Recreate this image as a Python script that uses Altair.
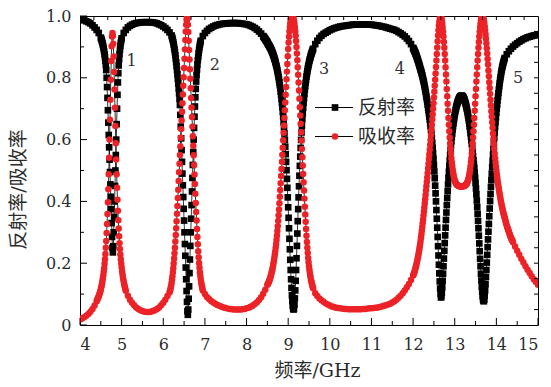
import altair as alt
import pandas as pd

# ---------------- data ----------------
# Each segment: start frequency (GHz), sampling step (GHz), values
refl_1_start, refl_1_step = 4.00, 0.05
refl_1 = [0.990, 0.988, 0.986, 0.983, 0.980, 0.976, 0.970, 0.963, 0.955, 0.945]
refl_2_start, refl_2_step = 4.50, 0.01
refl_2 = [0.930, 0.926, 0.922, 0.917, 0.912, 0.906, 0.900, 0.893, 0.885, 0.876,
          0.866, 0.855, 0.842, 0.825, 0.800, 0.770, 0.735, 0.695, 0.655, 0.615,
          0.575, 0.535, 0.495, 0.455, 0.415, 0.375, 0.330, 0.285, 0.250, 0.235,
          0.255, 0.300, 0.350, 0.400, 0.450, 0.500, 0.550, 0.600, 0.650, 0.700,
          0.745, 0.785, 0.815, 0.840, 0.860, 0.877, 0.891, 0.903, 0.913, 0.921,
          0.928]
refl_3_start, refl_3_step = 5.05, 0.05
refl_3 = [0.945, 0.955, 0.963, 0.968, 0.972, 0.975, 0.977, 0.978, 0.979, 0.980,
          0.980, 0.980, 0.980, 0.980, 0.979, 0.978, 0.976, 0.973, 0.970, 0.966,
          0.961, 0.955, 0.947, 0.937]
refl_4_start, refl_4_step = 6.21, 0.01
refl_4 = [0.932, 0.927, 0.921, 0.915, 0.908, 0.900, 0.892, 0.883, 0.873, 0.862,
          0.850, 0.838, 0.825, 0.811, 0.797, 0.782, 0.766, 0.750, 0.732, 0.712,
          0.680, 0.642, 0.604, 0.566, 0.528, 0.490, 0.452, 0.414, 0.376, 0.338,
          0.300, 0.262, 0.224, 0.186, 0.148, 0.110, 0.075, 0.045, 0.033, 0.050,
          0.085, 0.125, 0.168, 0.212, 0.256, 0.300, 0.344, 0.388, 0.432, 0.476,
          0.518, 0.560, 0.600, 0.638, 0.674, 0.707, 0.737, 0.764, 0.788, 0.809,
          0.827, 0.843, 0.857, 0.869, 0.880, 0.890, 0.899, 0.907, 0.914, 0.920]
refl_5_start, refl_5_step = 6.95, 0.05
refl_5 = [0.935, 0.945, 0.952, 0.958, 0.962, 0.966, 0.969, 0.971, 0.973, 0.974,
          0.975, 0.976, 0.976, 0.977, 0.977, 0.977, 0.977, 0.977, 0.976, 0.975,
          0.974, 0.973, 0.971, 0.968, 0.965, 0.961, 0.956, 0.950, 0.943, 0.935]
refl_6_start, refl_6_step = 8.41, 0.01
refl_6 = [0.933, 0.931, 0.929, 0.927, 0.925, 0.923, 0.921, 0.919, 0.917, 0.915,
          0.911, 0.909, 0.907, 0.905, 0.902, 0.900, 0.897, 0.895, 0.892, 0.889,
          0.885, 0.882, 0.879, 0.875, 0.871, 0.867, 0.862, 0.858, 0.853, 0.848,
          0.842, 0.837, 0.831, 0.824, 0.817, 0.810, 0.802, 0.794, 0.785, 0.776,
          0.766, 0.755, 0.744, 0.732, 0.719, 0.705, 0.690, 0.674, 0.657, 0.639,
          0.620, 0.599, 0.577, 0.553, 0.528, 0.501, 0.473, 0.444, 0.413, 0.381,
          0.347, 0.313, 0.279, 0.245, 0.211, 0.178, 0.148, 0.120, 0.096, 0.077,
          0.062, 0.053, 0.050, 0.054, 0.066, 0.086, 0.112, 0.143, 0.178, 0.216,
          0.256, 0.296, 0.336, 0.375, 0.413, 0.449, 0.483, 0.515, 0.545, 0.573,
          0.599, 0.623, 0.645, 0.666, 0.685, 0.703, 0.719, 0.734, 0.748, 0.761,
          0.773, 0.784, 0.794, 0.804, 0.813, 0.821, 0.829, 0.836, 0.842, 0.849,
          0.855, 0.860, 0.865, 0.870, 0.875, 0.879, 0.883, 0.887, 0.891, 0.894]
refl_7_start, refl_7_step = 9.65, 0.05
refl_7 = [0.909, 0.920, 0.929, 0.936, 0.942, 0.946, 0.950, 0.954,
          0.957, 0.960, 0.962, 0.964, 0.966, 0.967, 0.968, 0.969, 0.970, 0.971,
          0.972, 0.972, 0.973, 0.973, 0.973, 0.973, 0.973, 0.973, 0.972, 0.972,
          0.971, 0.970, 0.969, 0.968, 0.966, 0.965, 0.963, 0.961, 0.959, 0.957,
          0.955, 0.952, 0.948, 0.944, 0.939, 0.934, 0.927, 0.919, 0.909]
refl_8_start, refl_8_step = 12.00, 0.01
refl_8 = [0.897, 0.894, 0.891, 0.888, 0.885, 0.882, 0.878, 0.875, 0.871, 0.867,
          0.863, 0.859, 0.855, 0.850, 0.846, 0.841, 0.837, 0.832, 0.827, 0.823,
          0.818, 0.813, 0.808, 0.802, 0.796, 0.790, 0.784, 0.777, 0.770, 0.763,
          0.755, 0.747, 0.739, 0.731, 0.722, 0.713, 0.704, 0.695, 0.685, 0.675,
          0.665, 0.654, 0.643, 0.631, 0.618, 0.604, 0.589, 0.573, 0.556, 0.538,
          0.518, 0.497, 0.475, 0.451, 0.426, 0.400, 0.372, 0.344, 0.315, 0.285,
          0.255, 0.225, 0.195, 0.167, 0.141, 0.118, 0.100, 0.089, 0.093, 0.105,
          0.122, 0.143, 0.166, 0.190, 0.215, 0.240, 0.265, 0.290, 0.315, 0.340,
          0.364, 0.388, 0.411, 0.433, 0.455, 0.476, 0.496, 0.515, 0.533, 0.550,
          0.566, 0.581, 0.595, 0.608, 0.620, 0.632, 0.643, 0.653, 0.663, 0.672,
          0.680, 0.688, 0.695, 0.701, 0.707, 0.712, 0.717, 0.721, 0.725, 0.729,
          0.732, 0.735, 0.737, 0.739, 0.740, 0.741, 0.742, 0.742, 0.741, 0.740,
          0.738, 0.736, 0.733, 0.730, 0.726, 0.722, 0.717, 0.712, 0.706, 0.700,
          0.693, 0.686, 0.678, 0.670, 0.661, 0.652, 0.642, 0.632, 0.621, 0.610,
          0.598, 0.586, 0.573, 0.560, 0.546, 0.533, 0.521, 0.508, 0.493, 0.477,
          0.460, 0.442, 0.423, 0.403, 0.382, 0.360, 0.337, 0.313, 0.289, 0.264,
          0.239, 0.214, 0.190, 0.166, 0.144, 0.124, 0.107, 0.093, 0.083, 0.078,
          0.077, 0.082, 0.095, 0.112, 0.132, 0.155, 0.178, 0.202, 0.227, 0.252,
          0.277, 0.302, 0.327, 0.352, 0.377, 0.401, 0.424, 0.447, 0.469, 0.490,
          0.511, 0.531, 0.551, 0.570, 0.589, 0.607, 0.624, 0.641, 0.657, 0.672,
          0.687, 0.701, 0.714, 0.727, 0.739, 0.751, 0.762, 0.773, 0.783, 0.793,
          0.802, 0.811, 0.819, 0.826, 0.833, 0.839, 0.845, 0.850, 0.855, 0.860,
          0.864]
refl_9_start, refl_9_step = 14.25, 0.05
refl_9 = [0.876, 0.886, 0.894, 0.901, 0.907, 0.912, 0.917, 0.921, 0.925, 0.928,
          0.931, 0.933, 0.935, 0.937, 0.938, 0.939]

absorb_1_start, absorb_1_step = 4.00, 0.05
absorb_1 = [0.018, 0.021, 0.025, 0.030, 0.036, 0.043, 0.052, 0.063, 0.077]
absorb_2_start, absorb_2_step = 4.41, 0.01
absorb_2 = [0.081, 0.084, 0.087, 0.090, 0.093, 0.097, 0.101, 0.106, 0.110, 0.116,
            0.122, 0.128, 0.135, 0.143, 0.151, 0.161, 0.172, 0.184, 0.198, 0.213,
            0.230, 0.250, 0.272, 0.298, 0.327, 0.359, 0.397, 0.439, 0.488, 0.541,
            0.600, 0.664, 0.729, 0.794, 0.854, 0.902, 0.934, 0.945, 0.936, 0.910,
            0.869, 0.819, 0.762, 0.703, 0.644, 0.588, 0.536, 0.488, 0.444, 0.405,
            0.370, 0.339, 0.312, 0.287, 0.265, 0.246, 0.228, 0.213, 0.199, 0.187,
            0.175, 0.165, 0.156, 0.148, 0.140, 0.133, 0.127, 0.121, 0.116, 0.111]
absorb_3_start, absorb_3_step = 5.15, 0.05
absorb_3 = [0.095, 0.082, 0.072, 0.064, 0.057, 0.052, 0.048, 0.045, 0.043, 0.042,
            0.042, 0.043, 0.045, 0.048, 0.052, 0.057, 0.064, 0.072, 0.082, 0.094,
            0.105]
absorb_4_start, absorb_4_step = 6.16, 0.01
absorb_4 = [0.110, 0.115, 0.121, 0.128, 0.137, 0.147, 0.158, 0.170, 0.184, 0.199,
            0.215, 0.232, 0.250, 0.270, 0.291, 0.313, 0.336, 0.360, 0.385, 0.411,
            0.438, 0.466, 0.494, 0.522, 0.550, 0.578, 0.606, 0.634, 0.662, 0.690,
            0.718, 0.746, 0.774, 0.802, 0.832, 0.862, 0.892, 0.922, 0.950, 0.972,
            0.988, 0.996, 0.990, 0.972, 0.948, 0.920, 0.890, 0.859, 0.828, 0.797,
            0.766, 0.735, 0.704, 0.673, 0.642, 0.611, 0.580, 0.549, 0.518, 0.487,
            0.456, 0.425, 0.395, 0.366, 0.338, 0.311, 0.285, 0.261, 0.239, 0.219,
            0.201, 0.185, 0.171, 0.159, 0.148, 0.139, 0.131, 0.124, 0.118, 0.112]
absorb_5_start, absorb_5_step = 7.00, 0.05
absorb_5 = [0.100, 0.091, 0.084, 0.078, 0.073, 0.069, 0.065, 0.062, 0.059, 0.057,
            0.055, 0.053, 0.052, 0.051, 0.050, 0.050, 0.050, 0.050, 0.051, 0.052,
            0.054, 0.056, 0.059, 0.063, 0.068, 0.074, 0.081, 0.090, 0.101, 0.114,
            0.130]
absorb_6_start, absorb_6_step = 8.51, 0.01
absorb_6 = [0.132, 0.135, 0.138, 0.141, 0.145, 0.149, 0.153, 0.158, 0.163, 0.168,
            0.174, 0.180, 0.187, 0.194, 0.202, 0.210, 0.219, 0.229, 0.239, 0.250,
            0.262, 0.275, 0.289, 0.304, 0.320, 0.337, 0.355, 0.374, 0.394, 0.415,
            0.437, 0.459, 0.482, 0.505, 0.528, 0.551, 0.574, 0.598, 0.622, 0.646,
            0.670, 0.695, 0.720, 0.745, 0.770, 0.795, 0.820, 0.845, 0.870, 0.893,
            0.914, 0.933, 0.950, 0.964, 0.976, 0.985, 0.992, 0.996, 0.999, 1.000,
            0.999, 0.996, 0.991, 0.984, 0.975, 0.964, 0.951, 0.936, 0.919, 0.900,
            0.879, 0.857, 0.834, 0.810, 0.785, 0.759, 0.732, 0.705, 0.678, 0.651,
            0.624, 0.597, 0.570, 0.543, 0.516, 0.489, 0.462, 0.435, 0.409, 0.383,
            0.358, 0.334, 0.311, 0.289, 0.269, 0.250, 0.233, 0.217, 0.203, 0.190,
            0.179, 0.169, 0.160, 0.152, 0.145, 0.139, 0.133, 0.128, 0.123, 0.119]
absorb_7_start, absorb_7_step = 9.65, 0.05
absorb_7 = [0.103, 0.094, 0.086, 0.080, 0.075, 0.070, 0.066, 0.063,
            0.060, 0.058, 0.056, 0.055, 0.054, 0.053, 0.052, 0.052, 0.051, 0.051,
            0.051, 0.051, 0.051, 0.051, 0.051, 0.052, 0.052, 0.053, 0.054, 0.054,
            0.055, 0.056, 0.057, 0.058, 0.060, 0.062, 0.064, 0.066, 0.069, 0.073,
            0.077, 0.082, 0.088, 0.095, 0.103, 0.112, 0.122, 0.133, 0.146, 0.160]
absorb_8_start, absorb_8_step = 12.01, 0.01
absorb_8 = [0.163, 0.167, 0.171, 0.175, 0.180, 0.185, 0.190, 0.196, 0.202, 0.208,
            0.215, 0.222, 0.229, 0.237, 0.245, 0.254, 0.263, 0.273, 0.283, 0.294,
            0.305, 0.317, 0.329, 0.341, 0.354, 0.367, 0.380, 0.393, 0.407, 0.421,
            0.435, 0.449, 0.463, 0.477, 0.492, 0.507, 0.522, 0.537, 0.552, 0.567,
            0.583, 0.599, 0.615, 0.631, 0.648, 0.665, 0.682, 0.700, 0.718, 0.736,
            0.755, 0.774, 0.794, 0.814, 0.835, 0.856, 0.877, 0.898, 0.918, 0.937,
            0.954, 0.969, 0.981, 0.990, 0.996, 0.998, 0.997, 0.993, 0.986, 0.976,
            0.964, 0.950, 0.934, 0.916, 0.897, 0.877, 0.856, 0.834, 0.811, 0.788,
            0.764, 0.740, 0.716, 0.693, 0.670, 0.648, 0.627, 0.607, 0.588, 0.571,
            0.555, 0.540, 0.527, 0.515, 0.504, 0.494, 0.486, 0.479, 0.473, 0.468,
            0.464, 0.461, 0.458, 0.456, 0.454, 0.453, 0.452, 0.451, 0.450, 0.450,
            0.449, 0.449, 0.449, 0.449, 0.449, 0.449, 0.449, 0.449, 0.449, 0.449,
            0.449, 0.450, 0.450, 0.451, 0.452, 0.453, 0.454, 0.456, 0.458, 0.461,
            0.464, 0.468, 0.473, 0.479, 0.486, 0.494, 0.504, 0.515, 0.527, 0.540,
            0.555, 0.571, 0.588, 0.607, 0.627, 0.648, 0.670, 0.693, 0.716, 0.740,
            0.764, 0.788, 0.811, 0.834, 0.856, 0.877, 0.897, 0.916, 0.934, 0.950,
            0.964, 0.976, 0.986, 0.993, 0.997, 0.998, 0.999, 0.998, 0.993, 0.986,
            0.977, 0.966, 0.954, 0.941, 0.927, 0.912, 0.896, 0.879, 0.861, 0.843,
            0.824, 0.805, 0.786, 0.767, 0.748, 0.729, 0.710, 0.692, 0.674, 0.656,
            0.638, 0.620, 0.603, 0.586, 0.570, 0.555, 0.540, 0.526, 0.513, 0.500,
            0.489, 0.478, 0.468, 0.458, 0.449, 0.440, 0.431, 0.423, 0.415, 0.407,
            0.400, 0.393, 0.386, 0.380, 0.374, 0.368, 0.362, 0.357, 0.352, 0.347,
            0.342, 0.337, 0.332, 0.327, 0.322, 0.318, 0.314, 0.310, 0.306, 0.302,
            0.298, 0.294, 0.290, 0.286, 0.283, 0.280, 0.277, 0.274, 0.271, 0.268]
absorb_9_start, absorb_9_step = 14.45, 0.05
absorb_9 = [0.254, 0.240, 0.227, 0.214, 0.202, 0.190, 0.179, 0.168, 0.158, 0.148,
            0.139, 0.130]

series_names = ["反射率", "吸收率"]
peak_labels = ["1", "2", "3", "4", "5"]
peak_label_f = [5.24, 7.24, 9.86, 11.68, 14.52]
peak_label_v = [0.854, 0.841, 0.830, 0.830, 0.800]
x_tick_labels = list(range(4, 16))
y_tick_labels = [0, 0.2, 0.4, 0.6, 0.8, 1.0]

# ---------------- build tables ----------------
refl_segments = [
    (refl_1_start, refl_1_step, refl_1), (refl_2_start, refl_2_step, refl_2),
    (refl_3_start, refl_3_step, refl_3), (refl_4_start, refl_4_step, refl_4),
    (refl_5_start, refl_5_step, refl_5), (refl_6_start, refl_6_step, refl_6),
    (refl_7_start, refl_7_step, refl_7), (refl_8_start, refl_8_step, refl_8),
    (refl_9_start, refl_9_step, refl_9),
]
absorb_segments = [
    (absorb_1_start, absorb_1_step, absorb_1), (absorb_2_start, absorb_2_step, absorb_2),
    (absorb_3_start, absorb_3_step, absorb_3), (absorb_4_start, absorb_4_step, absorb_4),
    (absorb_5_start, absorb_5_step, absorb_5), (absorb_6_start, absorb_6_step, absorb_6),
    (absorb_7_start, absorb_7_step, absorb_7), (absorb_8_start, absorb_8_step, absorb_8),
    (absorb_9_start, absorb_9_step, absorb_9),
]


def build(segments):
    fs, vs = [], []
    for start, step, vals in segments:
        for i, val in enumerate(vals):
            fs.append(round(start + i * step, 3))
            vs.append(val)
    return pd.DataFrame({"f": fs, "v": vs})


refl_df = build(refl_segments)
absorb_df = build(absorb_segments)
labels_df = pd.DataFrame({"t": peak_labels, "f": peak_label_f, "v": peak_label_v})

x_major = pd.DataFrame({"f": [float(x) for x in x_tick_labels]})
x_minor = pd.DataFrame({"f": [x + 0.5 for x in range(4, 15)]})
y_major = pd.DataFrame({"v": y_tick_labels})
y_minor = pd.DataFrame({"v": [0.1, 0.3, 0.5, 0.7, 0.9]})
top_ticks = pd.DataFrame({"f": [4 + i / 3 for i in range(1, 33)]})
right_ticks = pd.DataFrame({"v": [i * 0.05 for i in range(1, 20)]})

W, H = 458, 309
RED = "#EC2227"
SERIF = "DejaVu Serif"
CJK = "DejaVu Serif, Noto Sans CJK SC"
TXT = "#2b2b2b"

xscale = alt.Scale(domain=[4, 15], nice=False, zero=False)
yscale = alt.Scale(domain=[0, 1], nice=False, zero=False)

x_axis = alt.Axis(values=x_tick_labels, ticks=False, domain=False, grid=False,
                  labelFont=SERIF, labelFontSize=16, labelColor=TXT,
                  labelPadding=11, title="频率/GHz", titleFont=CJK,
                  titleFontSize=19, titleFontWeight="normal", titleColor=TXT,
                  titleX=237, titleY=51, titleBaseline="alphabetic", titleAlign="center")
y_axis = alt.Axis(values=y_tick_labels, ticks=False, domain=False, grid=False,
                  labelFont=SERIF, labelFontSize=16, labelColor=TXT,
                  labelPadding=9,
                  labelExpr="datum.value == 0 ? '0' : format(datum.value, '.1f')",
                  title="反射率/吸收率", titleFont=CJK, titleFontSize=19,
                  titleFontWeight="normal", titleColor=TXT,
                  titleX=-56, titleY=173, titleBaseline="alphabetic", titleAlign="center")

# same axis definition on every layer so that Vega-Lite merges them into one
X = alt.X("f:Q", scale=xscale, axis=x_axis, title="频率/GHz")
Y = alt.Y("v:Q", scale=yscale, axis=y_axis, title="反射率/吸收率")

refl_line = alt.Chart(refl_df).mark_line(color="black", strokeWidth=0.8, clip=True).encode(x=X, y=Y)
refl_pts = alt.Chart(refl_df).mark_square(color="black", size=44, opacity=1, clip=True).encode(x=X, y=Y)
abs_line = alt.Chart(absorb_df).mark_line(color="black", strokeWidth=0.8, clip=True).encode(x=X, y=Y)
abs_pts = alt.Chart(absorb_df).mark_circle(color=RED, size=42, opacity=1, clip=True).encode(x=X, y=Y)

peak_text = alt.Chart(labels_df).mark_text(font=SERIF, fontSize=16, color="#333",
                                           align="center", baseline="middle").encode(
    x=X, y=Y, text="t:N")

tick_style = dict(color="black", strokeWidth=1)
t_xmaj = alt.Chart(x_major).mark_rule(**tick_style).encode(x=X, y=alt.value(H), y2=alt.value(H - 7))
t_xmin = alt.Chart(x_minor).mark_rule(**tick_style).encode(x=X, y=alt.value(H), y2=alt.value(H - 4))
t_top = alt.Chart(top_ticks).mark_rule(**tick_style).encode(x=X, y=alt.value(0), y2=alt.value(4))
t_ymaj = alt.Chart(y_major).mark_rule(**tick_style).encode(y=Y, x=alt.value(0), x2=alt.value(7))
t_ymin = alt.Chart(y_minor).mark_rule(**tick_style).encode(y=Y, x=alt.value(0), x2=alt.value(4))
t_right = alt.Chart(right_ticks).mark_rule(**tick_style).encode(y=Y, x=alt.value(W), x2=alt.value(W - 4))

# legend (manual, inside plot)
leg_df = pd.DataFrame({"name": series_names})
leg_y = [91.5, 120.5]
leg_parts = []
for i, name in enumerate(series_names):
    d = leg_df[leg_df["name"] == name]
    leg_parts.append(alt.Chart(d).mark_rule(color="black", strokeWidth=1).encode(
        x=alt.value(235), x2=alt.value(273), y=alt.value(leg_y[i])))
    if i == 0:
        leg_parts.append(alt.Chart(d).mark_square(color="black", size=44, opacity=1).encode(
            x=alt.value(255), y=alt.value(leg_y[i])))
    else:
        leg_parts.append(alt.Chart(d).mark_circle(color=RED, size=42, opacity=1).encode(
            x=alt.value(255), y=alt.value(leg_y[i])))
    leg_parts.append(alt.Chart(d).mark_text(font="Noto Sans CJK SC", fontSize=19, color=TXT,
                                            align="left", baseline="middle").encode(
        x=alt.value(278), y=alt.value(leg_y[i]), text="name:N"))

chart = alt.layer(
    refl_line, refl_pts, abs_line, abs_pts, peak_text,
    t_xmaj, t_xmin, t_top, t_ymaj, t_ymin, t_right, *leg_parts
).properties(
    width=W, height=H,
    autosize=alt.AutoSizeParams(type="none"),
    padding={"left": 72, "top": 8, "right": 5, "bottom": 54},
    background="white",
).configure_view(stroke="black", strokeWidth=1)

chart.save("out.html", embed_options={"renderer": "svg", "actions": False})
